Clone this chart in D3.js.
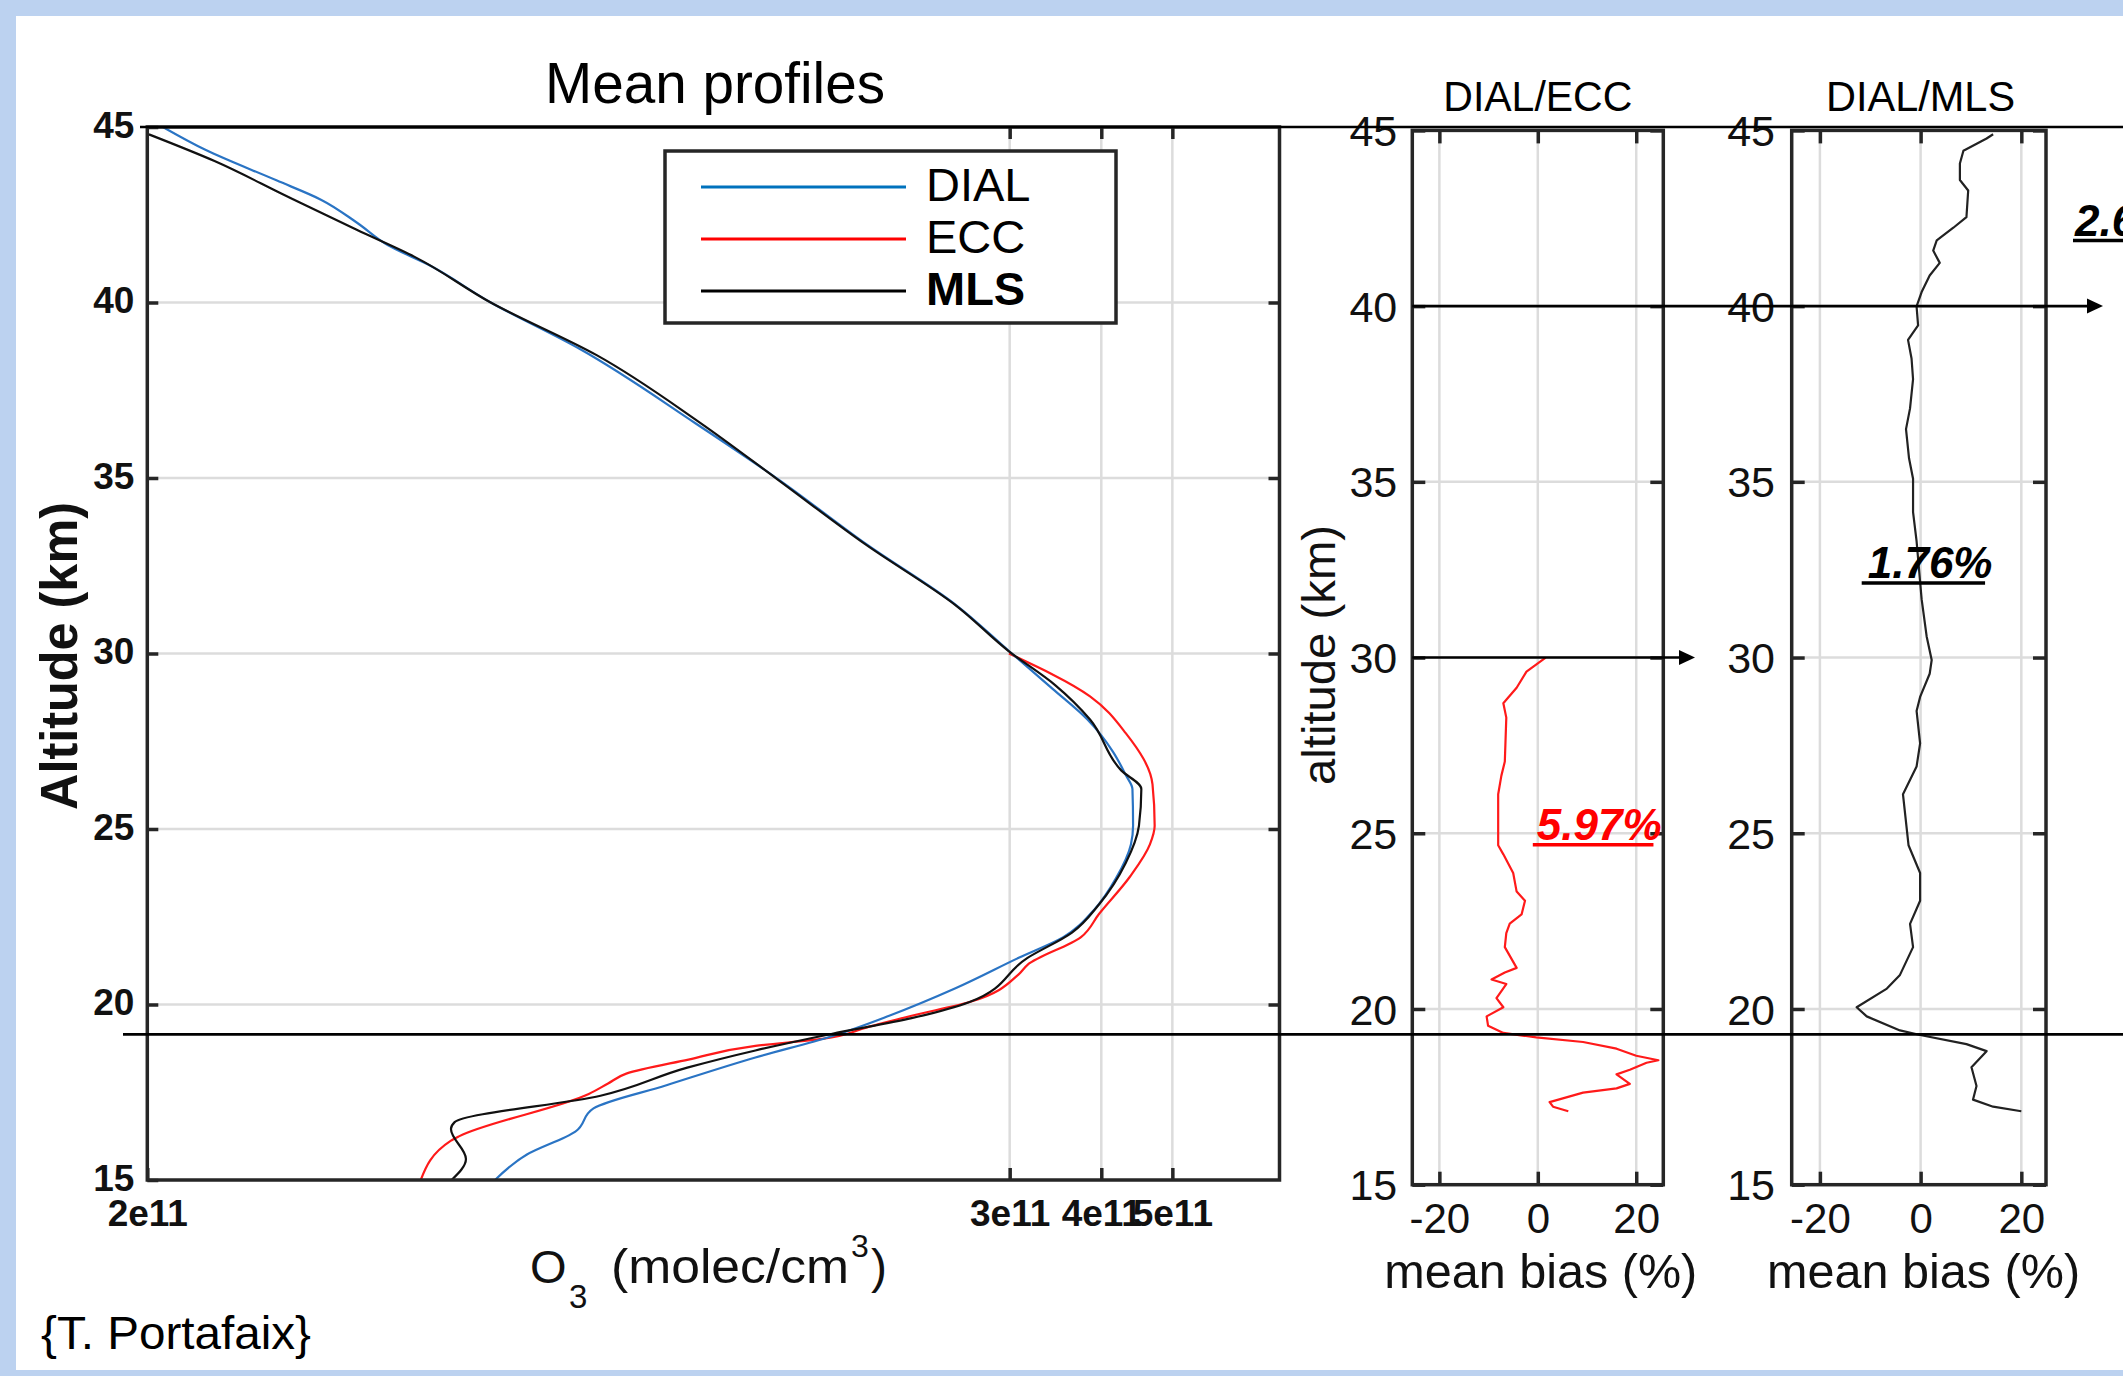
<!DOCTYPE html>
<html><head><meta charset="utf-8">
<script src="https://cdn.jsdelivr.net/npm/d3@7"></script>
<style>html,body{margin:0;padding:0;background:#bcd2f0;overflow:hidden}</style>
</head><body>
<svg id="c" width="2123" height="1376"></svg>
<script>
// ---------------- DATA ----------------
const altTicks = [15, 20, 25, 30, 35, 40, 45];
const o3TickValues = [2, 30, 40, 50];            // units of 1e11 molec/cm3
const o3TickLabels = ["2e11", "3e11", "4e11", "5e11"];
const biasTicks = [-20, 0, 20];
const seriesNames = ["DIAL", "ECC", "MLS"];

const dialAlt = [45.0, 44.35, 43.48, 42.93, 42.28, 41.63, 41.08, 40.0, 38.68, 36.56, 34.97, 33.1, 31.38, 30.07, 29.0, 28.12, 27.2, 26.54, 26.14, 25.1, 24.56, 23.6, 22.71, 21.92, 21.33, 20.47, 19.68, 19.09, 18.49, 17.7, 17.04, 16.38, 15.72, 15.0];
const dialO3  = [2.10, 2.40, 3.00, 3.45, 3.86, 4.26, 4.83, 5.88, 7.77, 11.18, 14.49, 19.17, 25.35, 29.93, 34.3, 38.3, 41.5, 43.19, 44.11, 44.2, 43.90, 41.9, 39.15, 35.50, 30.86, 25.35, 20.55, 17.13, 13.50, 10.21, 8.12, 7.67, 6.58, 5.96];

const eccAlt = [30.0, 28.78, 27.73, 26.27, 25.09, 24.56, 23.64, 22.58, 21.92, 21.13, 20.86, 20.07, 19.68, 19.35, 19.02, 18.82, 18.43, 18.03, 17.75, 17.45, 16.25, 16.12, 15.0];
const eccO3  = [29.93, 38.61, 43.19, 46.98, 47.30, 46.60, 43.76, 39.71, 37.53, 31.73, 30.86, 26.45, 22.05, 19.17, 16.65, 13.50, 10.94, 9.00, 8.5, 8.0, 5.33, 5.19, 4.72];

const mlsAlt = [44.79, 44.03, 43.04, 42.07, 41.3, 40.0, 38.5, 36.6, 34.97, 33.1, 31.38, 30.07, 29.1, 28.12, 26.67, 26.14, 25.09, 24.03, 22.85, 22.05, 21.33, 20.07, 19.61, 19.16, 18.69, 18.2, 17.4, 16.65, 16.45, 15.6, 15.0];
const mlsO3  = [2.01, 2.47, 3.09, 3.86, 4.63, 5.88, 8.2, 11.3, 14.45, 19.1, 25.3, 29.9, 34.6, 38.61, 42.58, 45.36, 45.02, 43.19, 39.71, 36.48, 31.73, 26.45, 22.05, 17.13, 13.50, 10.9, 8.3, 5.25, 5.19, 5.44, 5.2];

const eccBiasAlt = [30.0, 29.6, 29.14, 28.8, 28.7, 28.29, 27.04, 26.64, 26.11, 24.66, 24.4, 23.87, 23.34, 23.08, 22.69, 22.43, 22.16, 21.76, 21.17, 21.04, 20.84, 20.71, 20.31, 20.05, 19.79, 19.52, 19.32, 19.19, 19.06, 18.87, 18.67, 18.54, 18.47, 18.27, 18.14, 17.87, 17.74, 17.62, 17.35, 17.22, 17.09];
const eccBias    = [1.6, -2.3, -4.3, -6.4, -7.0, -6.4, -6.7, -7.4, -8.05, -8.05, -7.0, -5.0, -4.3, -2.6, -3.3, -5.7, -6.4, -6.7, -4.3, -6.7, -9.4, -6.4, -8.4, -7.0, -10.4, -10.1, -7.0, -0.3, 9.2, 16.0, 20.0, 24.5, 22.1, 18.7, 16.0, 18.7, 16.0, 9.2, 2.4, 3.1, 6.2];

const mlsBiasAlt = [44.89, 44.77, 44.42, 44.06, 43.59, 43.29, 42.53, 42.23, 41.87, 41.58, 41.23, 40.87, 40.40, 39.99, 39.45, 39.04, 38.51, 37.92, 37.09, 36.5, 35.67, 35.09, 34.14, 33.31, 31.66, 30.6, 29.93, 29.54, 28.88, 28.48, 27.56, 26.9, 26.11, 25.58, 24.66, 23.87, 23.08, 22.42, 21.76, 20.97, 20.58, 20.05, 19.79, 19.39, 19.26, 19.0, 18.80, 18.34, 17.81, 17.42, 17.22, 17.09];
const mlsBias    = [14.4, 13.1, 8.5, 7.8, 7.8, 9.45, 9.1, 6.5, 3.2, 2.5, 3.8, 1.8, 0.2, -0.8, -0.5, -2.5, -1.8, -1.5, -2.1, -2.9, -2.3, -1.5, -1.5, -0.8, 0.2, 1.2, 2.2, 1.8, -0.1, -0.8, -0.1, -0.8, -3.5, -3.1, -2.4, -0.1, -0.1, -2.1, -1.5, -4.1, -6.7, -12.7, -10.7, -4.1, -0.1, 9.1, 13.1, 10.1, 11.1, 10.4, 14.4, 20.0];

const biasSummary = ["5.97%", "1.76%", "2.61%"];
const arrowAlts = [40, 30];
const cutAlt = 19.15;

// ---------------- LAYOUT ----------------
const FONT = "'Liberation Sans', Arial, Helvetica, sans-serif";
const AX = "#262626", GRID = "#dcdcdc";
const colors = {DIAL: "#2a74c4", ECC: "#ff1a1a", MLS: "#111111"};
const legendColors = {DIAL: "#0072bd", ECC: "#ff0000", MLS: "#000000"};

const svg = d3.select("#c");
svg.append("rect").attr("width", 2123).attr("height", 1376).attr("fill", "#bcd2f0");
svg.append("rect").attr("x", 16).attr("y", 16).attr("width", 2107).attr("height", 1354).attr("fill", "#ffffff");

const xMain = d3.scaleLog().domain([2, 70]).range([147.3, 1279.5]);
const yMain = d3.scaleLinear().domain([15, 45]).range([1180, 127]);
const yBias = d3.scaleLinear().domain([15, 45]).range([1184.7, 130.4]);
const xECC = d3.scaleLinear().domain([-25.5, 25.5]).range([1412.3, 1663.3]);
const xMLS = d3.scaleLinear().domain([-25.6, 24.9]).range([1791.7, 2046]);

const defs = svg.append("defs");
function clip(id, xs, ys) {
  defs.append("clipPath").attr("id", id).append("rect")
    .attr("x", xs.range()[0]).attr("y", ys.range()[1])
    .attr("width", xs.range()[1] - xs.range()[0]).attr("height", ys.range()[0] - ys.range()[1]);
}
clip("cMain", xMain, yMain); clip("cECC", xECC, yBias); clip("cMLS", xMLS, yBias);

function grid(g, xs, ys, xv, yv) {
  g.selectAll(null).data(yv).join("line")
    .attr("x1", xs.range()[0]).attr("x2", xs.range()[1])
    .attr("y1", d => ys(d)).attr("y2", d => ys(d))
    .attr("stroke", GRID).attr("stroke-width", 2.5);
  g.selectAll(null).data(xv).join("line")
    .attr("y1", ys.range()[0]).attr("y2", ys.range()[1])
    .attr("x1", d => xs(d)).attr("x2", d => xs(d))
    .attr("stroke", GRID).attr("stroke-width", 2.5);
}
function styleAxis(g, fs, fw) {
  g.select(".domain").remove();
  g.attr("font-size", null).attr("font-family", null);
  g.selectAll(".tick line").attr("stroke", AX).attr("stroke-width", 3.5);
  g.selectAll("text").attr("font-size", fs).attr("font-weight", fw)
    .attr("font-family", FONT).attr("fill", "#111");
}
function frame(g, xs, ys) {
  g.append("rect").attr("x", xs.range()[0]).attr("y", ys.range()[1])
    .attr("width", xs.range()[1] - xs.range()[0]).attr("height", ys.range()[0] - ys.range()[1])
    .attr("fill", "none").attr("stroke", AX).attr("stroke-width", 3.5);
}

// ---------------- MAIN PANEL ----------------
const gM = svg.append("g");
grid(gM, xMain, yMain, o3TickValues.slice(1), altTicks.slice(1, -1));

// legend
const lg = gM.append("g");
lg.append("rect").attr("x", 665).attr("y", 151).attr("width", 451).attr("height", 172)
  .attr("fill", "#fff").attr("stroke", AX).attr("stroke-width", 3.5);
seriesNames.forEach((n, i) => {
  const y = 187 + i * 52;
  lg.append("line").attr("x1", 701).attr("x2", 906).attr("y1", y).attr("y2", y)
    .attr("stroke", legendColors[n]).attr("stroke-width", 3.2);
  lg.append("text").attr("x", 926).attr("y", y + 14).text(n)
    .attr("font-family", FONT).attr("font-size", 47)
    .attr("font-weight", n === "MLS" ? "bold" : "normal").attr("fill", "#000");
});

const lineMain = d3.line().x(d => xMain(d[1])).y(d => yMain(d[0])).curve(d3.curveMonotoneY);
const profiles = [
  ["ECC", d3.zip(eccAlt, eccO3)],
  ["DIAL", d3.zip(dialAlt, dialO3)],
  ["MLS", d3.zip(mlsAlt, mlsO3)]
];
gM.append("g").attr("clip-path", "url(#cMain)").selectAll("path").data(profiles).join("path")
  .attr("d", d => lineMain(d[1])).attr("fill", "none")
  .attr("stroke", d => colors[d[0]]).attr("stroke-width", 2.2).attr("stroke-linejoin", "round");

const aL = gM.append("g").attr("transform", `translate(${xMain.range()[0]},0)`)
  .call(d3.axisLeft(yMain).tickValues(altTicks).tickSize(-11).tickPadding(13));
styleAxis(aL, 37, "bold"); aL.selectAll("text").attr("dy", "0.27em");
const aR = gM.append("g").attr("transform", `translate(${xMain.range()[1]},0)`)
  .call(d3.axisRight(yMain).tickValues(altTicks.slice(1, -1)).tickSize(-11).tickFormat(""));
styleAxis(aR, 37, "bold");
const aT = gM.append("g").attr("transform", `translate(0,${yMain.range()[1]})`)
  .call(d3.axisTop(xMain).tickValues(o3TickValues.slice(1)).tickSize(-12).tickFormat(""));
styleAxis(aT, 37, "bold");
const aB = gM.append("g").attr("transform", `translate(0,${yMain.range()[0]})`)
  .call(d3.axisBottom(xMain).tickValues(o3TickValues).tickSize(-12).tickPadding(20)
    .tickFormat((d, i) => o3TickLabels[i]));
styleAxis(aB, 37, "bold");
frame(gM, xMain, yMain);

gM.append("text").attr("x", 715).attr("y", 103).attr("text-anchor", "middle")
  .attr("font-family", FONT).attr("font-size", 58).attr("textLength", 340)
  .attr("lengthAdjust", "spacingAndGlyphs").attr("fill", "#000").text("Mean profiles");
gM.append("text").attr("transform", "translate(77,656) rotate(-90)").attr("text-anchor", "middle")
  .attr("font-family", FONT).attr("font-size", 52).attr("font-weight", "bold")
  .attr("textLength", 308).attr("lengthAdjust", "spacingAndGlyphs").attr("fill", "#111").text("Altitude (km)");
// x label O3 (molec/cm3)
const xl = gM.append("g").attr("font-family", FONT).attr("fill", "#111");
xl.append("text").attr("x", 530).attr("y", 1283).attr("font-size", 47).text("O");
xl.append("text").attr("x", 569).attr("y", 1308).attr("font-size", 33).text("3");
xl.append("text").attr("x", 611).attr("y", 1283).attr("font-size", 48).attr("textLength", 238)
  .attr("lengthAdjust", "spacingAndGlyphs").text("(molec/cm");
xl.append("text").attr("x", 851).attr("y", 1257).attr("font-size", 32).text("3");
xl.append("text").attr("x", 871).attr("y", 1283).attr("font-size", 48).text(")");

svg.append("text").attr("x", 41).attr("y", 1349).attr("font-family", FONT).attr("font-size", 46)
  .attr("textLength", 270).attr("lengthAdjust", "spacingAndGlyphs")
  .attr("fill", "#000").text("{T. Portafaix}");

// ---------------- BIAS PANELS ----------------
function biasPanel(xs, title, alts, vals, color, showYLabel, labelPad) {
  const g = svg.append("g");
  grid(g, xs, yBias, biasTicks, altTicks.slice(1, -1));
  g.append("path").attr("clip-path", `url(#${xs === xECC ? "cECC" : "cMLS"})`)
    .attr("d", d3.line().x(d => xs(d[1])).y(d => yBias(d[0]))(d3.zip(alts, vals)))
    .attr("fill", "none").attr("stroke", color).attr("stroke-width", 2.2).attr("stroke-linejoin", "round");
  const l = g.append("g").attr("transform", `translate(${xs.range()[0]},0)`)
    .call(d3.axisLeft(yBias).tickValues(altTicks).tickSize(-13).tickPadding(labelPad));
  styleAxis(l, 43, "normal"); l.selectAll("text").attr("dy", "0.35em");
  const r = g.append("g").attr("transform", `translate(${xs.range()[1]},0)`)
    .call(d3.axisRight(yBias).tickValues(altTicks).tickSize(-13).tickFormat(""));
  styleAxis(r, 43, "normal");
  const t = g.append("g").attr("transform", `translate(0,${yBias.range()[1]})`)
    .call(d3.axisTop(xs).tickValues(biasTicks).tickSize(-13).tickFormat(""));
  styleAxis(t, 42, "normal");
  const b = g.append("g").attr("transform", `translate(0,${yBias.range()[0]})`)
    .call(d3.axisBottom(xs).tickValues(biasTicks).tickSize(-13).tickPadding(18.5)
      .tickFormat(d => d < 0 ? "-" + Math.abs(d) : String(d)));
  styleAxis(b, 42, "normal");
  frame(g, xs, yBias);
  g.append("text").attr("x", xs(0)).attr("y", 111).attr("text-anchor", "middle")
    .attr("font-family", FONT).attr("font-size", 43).attr("textLength", 189)
    .attr("lengthAdjust", "spacingAndGlyphs").attr("fill", "#000").text(title);
  g.append("text").attr("x", xs(0) + 3).attr("y", 1288).attr("text-anchor", "middle")
    .attr("font-family", FONT).attr("font-size", 48).attr("textLength", 313)
    .attr("lengthAdjust", "spacingAndGlyphs").attr("fill", "#111").text("mean bias (%)");
  if (showYLabel) {
    g.append("text").attr("transform", `translate(${xs.range()[0] - 77},655) rotate(-90)`)
      .attr("text-anchor", "middle").attr("font-family", FONT).attr("font-size", 47)
      .attr("textLength", 260).attr("lengthAdjust", "spacingAndGlyphs").attr("fill", "#111")
      .text("altitude (km)");
  }
  return g;
}
biasPanel(xECC, "DIAL/ECC", eccBiasAlt, eccBias, "#ff1a1a", true, 15);
biasPanel(xMLS, "DIAL/MLS", mlsBiasAlt, mlsBias, "#222", false, 16.7);

// summary labels
function summary(x, y, txt, color, ulx0, ulx1) {
  svg.append("text").attr("x", x).attr("y", y).attr("font-family", FONT).attr("font-size", 44)
    .attr("font-weight", "bold").attr("font-style", "italic").attr("fill", color).text(txt);
  svg.append("line").attr("x1", ulx0).attr("x2", ulx1).attr("y1", y + 4.5).attr("y2", y + 4.5)
    .attr("stroke", color).attr("stroke-width", 3.5);
}
summary(xECC(0) - 1, yBias(24.8), biasSummary[0], "#ff0000", xECC(0) - 5, xECC(23.5));
summary(xMLS(-10.5), yBias(32.25), biasSummary[1], "#000", xMLS(-11.7), xMLS(12.8));
summary(2075, 236, biasSummary[2], "#000", 2073, 2200);

// ---------------- ANNOTATION LINES ----------------
const ann = svg.append("g").attr("stroke", "#000").attr("stroke-width", 2.6);
ann.append("line").attr("x1", 140).attr("x2", 2123).attr("y1", yMain(45)).attr("y2", yMain(45));
ann.append("line").attr("x1", 123).attr("x2", 2123).attr("y1", yMain(cutAlt)).attr("y2", yMain(cutAlt));
const arrowEnds = [2103, 1695];
arrowAlts.forEach((a, i) => {
  const y = yBias(a), x0 = xECC.range()[0], x1 = arrowEnds[i];
  ann.append("line").attr("x1", x0).attr("x2", x1 - 14).attr("y1", y).attr("y2", y);
  svg.append("path").attr("d", `M${x1},${y} L${x1 - 16},${y - 7.5} L${x1 - 16},${y + 7.5} Z`).attr("fill", "#000");
});
</script></body></html>
